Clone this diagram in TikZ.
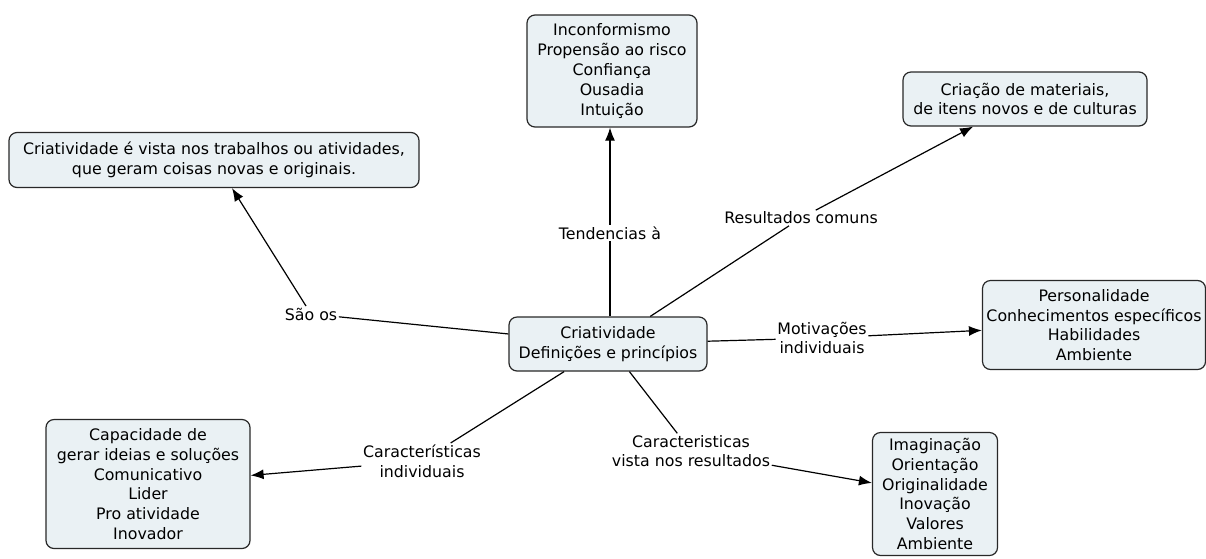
\documentclass[tikz,border=0pt]{standalone}
\usepackage{fontspec}
\setmainfont{DejaVu Sans}
\usetikzlibrary{arrows.meta}
\definecolor{boxfill}{RGB}{234,241,244}
\definecolor{boxline}{RGB}{40,40,40}
\tikzset{
  concept/.style={draw=boxline, line width=1.2pt, fill=boxfill, rounded corners=8pt,
    align=center, inner sep=2pt, font=\fontsize{15.8}{19.8}\selectfont},
  linklabel/.style={fill=white, inner sep=1.5pt, align=center, font=\fontsize{15.8}{19.8}\selectfont},
  link/.style={line width=1.2pt, black},
  arrowlink/.style={line width=1.2pt, black, -{Latex[length=13pt,width=10pt]}}
}
\begin{document}
\begin{tikzpicture}[x=1pt,y=-1pt]
\useasboundingbox (0,0) rectangle (1206,558);
% concepts
\node[concept, minimum width=198pt, minimum height=54pt] (ctr) at (608,344) {Criatividade\\Definições e princípios};
\node[concept, minimum width=170pt, minimum height=112pt] (tend) at (612,71) {Inconformismo\\Propensão ao risco\\Confiança\\Ousadia\\Intuição};
\node[concept, minimum width=244pt, minimum height=54pt] (cria) at (1025,99) {Criação de materiais,\\de itens novos e de culturas};
\node[concept, minimum width=410pt, minimum height=55pt] (vista) at (214,160) {Criatividade é vista nos trabalhos ou atividades,\\que geram coisas novas e originais.};
\node[concept, minimum width=223pt, minimum height=89pt] (pers) at (1094,325) {Personalidade\\Conhecimentos específicos\\Habilidades\\Ambiente};
\node[concept, minimum width=204pt, minimum height=129pt] (cap) at (148,484) {Capacidade de\\gerar ideias e soluções\\Comunicativo\\Lider\\Pro atividade\\Inovador};
\node[concept, minimum width=125pt, minimum height=123pt] (imag) at (935,494) {Imaginação\\Orientação\\Originalidade\\Inovação\\Valores\\Ambiente};
% link labels
\node[linklabel] (ltend) at (610,233) {Tendencias à};
\node[linklabel] (lres) at (801,218) {Resultados comuns};
\node[linklabel] (lsao) at (311,314) {São os};
\node[linklabel] (lmot) at (822,338) {Motivações\\individuais};
\node[linklabel] (lind) at (422,461) {Características\\individuais};
\node[linklabel] (lvis) at (691,451) {Caracteristicas\\vista nos resultados};
% connectors
\draw[link] (ctr.north -| ltend) -- (ltend);
\draw[arrowlink] (ltend) -- (tend.south -| ltend);
\draw[link] (ctr) -- (lres);
\draw[arrowlink] (lres) -- (cria);
\draw[link] (ctr) -- (lsao);
\draw[arrowlink] (lsao) -- (vista.south east -| 232,0);
\draw[link] (ctr) -- (lmot);
\draw[arrowlink] (lmot) -- (pers);
\draw[link] (ctr) -- (lind);
\draw[arrowlink] (lind) -- (cap);
\draw[link] (ctr) -- (lvis);
\draw[arrowlink] (lvis) -- (imag);
\end{tikzpicture}
\end{document}
